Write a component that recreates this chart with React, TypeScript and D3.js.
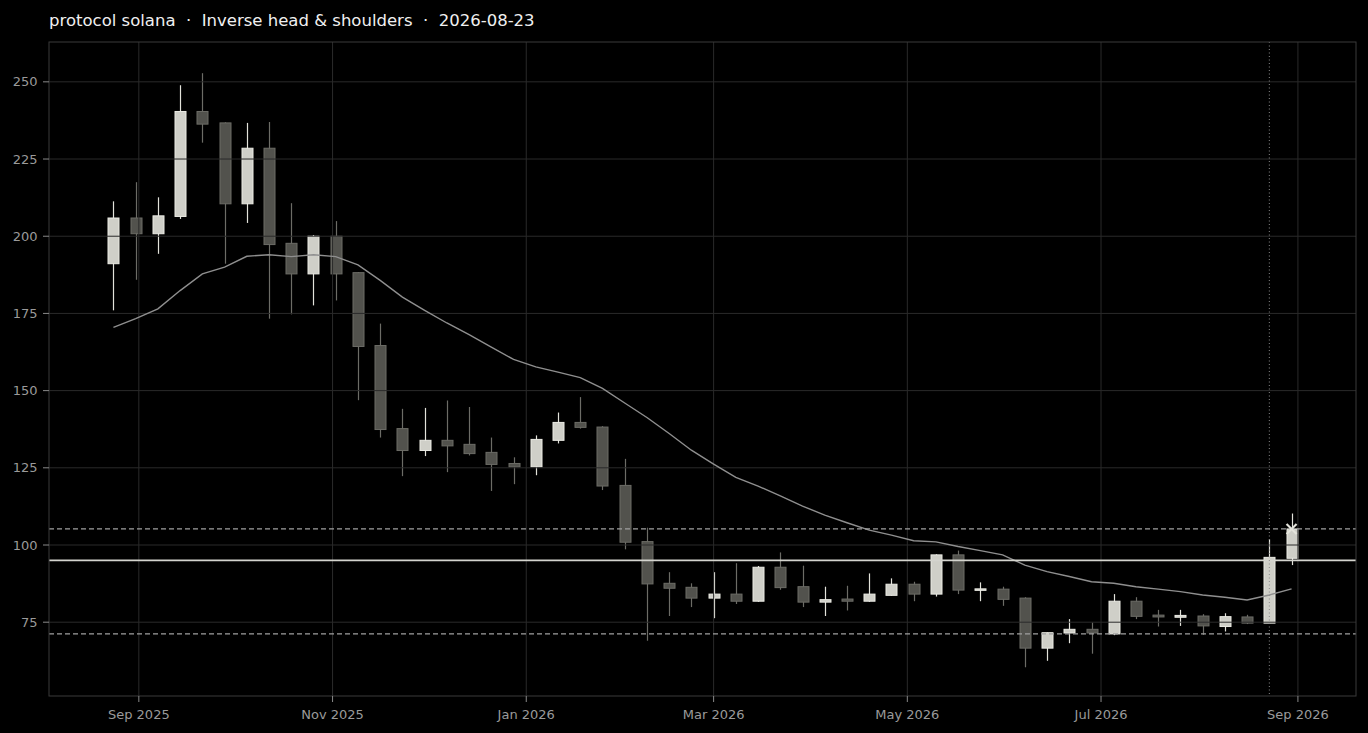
import React from "react";
import * as d3 from "d3";

// weekly candles (week start dates)
const weeks = [
  "2025-08-24", "2025-08-31", "2025-09-07", "2025-09-14", "2025-09-21", "2025-09-28",
  "2025-10-05", "2025-10-12", "2025-10-19", "2025-10-26", "2025-11-02", "2025-11-09",
  "2025-11-16", "2025-11-23", "2025-11-30", "2025-12-07", "2025-12-14", "2025-12-21",
  "2025-12-28", "2026-01-04", "2026-01-11", "2026-01-18", "2026-01-25", "2026-02-01",
  "2026-02-08", "2026-02-15", "2026-02-22", "2026-03-01", "2026-03-08", "2026-03-15",
  "2026-03-22", "2026-03-29", "2026-04-05", "2026-04-12", "2026-04-19", "2026-04-26",
  "2026-05-03", "2026-05-10", "2026-05-17", "2026-05-24", "2026-05-31", "2026-06-07",
  "2026-06-14", "2026-06-21", "2026-06-28", "2026-07-05", "2026-07-12", "2026-07-19",
  "2026-07-26", "2026-08-02", "2026-08-09", "2026-08-16", "2026-08-23", "2026-08-30",
];

const opens = [
  191.1, 205.9, 200.8, 206.4, 240.4, 236.7, 210.5, 228.5, 197.7, 187.8, 200.0, 188.2,
  164.6, 137.7, 130.6, 133.9, 132.6, 130.0, 126.4, 125.3, 133.9, 139.7, 138.2, 119.3,
  101.1, 87.6, 86.3, 82.8, 84.1, 81.8, 92.8, 86.5, 81.5, 82.5, 81.8, 83.7,
  87.3, 84.1, 96.8, 85.4, 85.7, 82.8, 66.6, 71.5, 72.7, 71.2, 81.8, 77.3,
  76.6, 77.0, 73.6, 76.7, 74.7, 95.7,
];
const highs = [
  211.3, 217.5, 212.6, 248.9, 252.8, 236.9, 236.7, 237.0, 210.7, 200.4, 204.9, 188.4,
  171.7, 144.1, 144.4, 146.8, 144.7, 134.8, 128.4, 135.5, 142.9, 147.9, 138.5, 127.9,
  105.6, 91.2, 87.6, 91.2, 94.1, 93.2, 97.6, 93.3, 86.5, 86.8, 90.8, 89.2,
  88.1, 97.0, 98.2, 87.9, 86.5, 83.1, 71.7, 76.0, 74.9, 84.1, 83.1, 79.0,
  79.0, 77.6, 77.9, 77.4, 101.8, 110.2,
];
const lows = [
  176.0, 185.9, 194.3, 205.6, 230.3, 191.1, 204.3, 173.3, 174.7, 177.6, 179.2, 146.9,
  134.8, 122.3, 128.8, 123.6, 129.0, 117.5, 119.7, 122.6, 132.9, 137.7, 117.8, 98.6,
  69.0, 77.0, 79.9, 76.3, 80.9, 81.6, 85.5, 79.9, 77.0, 78.8, 81.6, 83.6,
  81.8, 83.3, 84.1, 81.8, 80.3, 60.4, 62.5, 68.2, 64.8, 70.8, 76.0, 73.6,
  73.8, 70.9, 72.0, 74.4, 74.5, 93.5,
];
const closes = [
  205.9, 200.8, 206.6, 240.4, 236.3, 210.5, 228.5, 197.3, 187.8, 200.0, 187.8, 164.3,
  137.4, 130.6, 133.9, 132.1, 129.6, 126.1, 125.3, 134.2, 139.7, 138.1, 119.1, 100.9,
  87.4, 86.0, 82.8, 84.1, 81.8, 92.8, 86.2, 81.5, 82.3, 81.8, 84.1, 87.3,
  84.1, 96.8, 85.4, 85.8, 82.4, 66.6, 71.6, 72.7, 71.5, 81.8, 76.9, 76.7,
  77.2, 73.8, 76.8, 74.7, 96.0, 105.2,
];
// moving average line
const movingAvg = [
  170.5, 173.3, 176.5, 182.4, 187.8, 190.0, 193.5, 194.0, 193.4, 194.0, 193.4, 190.7,
  185.7, 180.3, 176.0, 171.9, 168.1, 164.1, 160.1, 157.7, 156.0, 154.2, 150.7, 146.0,
  141.3, 136.1, 130.7, 126.2, 121.9, 119.1, 115.9, 112.6, 109.7, 107.2, 104.8, 103.2,
  101.4, 101.0, 99.5, 98.2, 96.8, 93.5, 91.4, 89.8, 88.1, 87.6, 86.5, 85.7,
  84.9, 83.8, 83.1, 82.2, 83.8, 85.8,
];

const neckline = 95;
const bands = [105.2, 71.2];
const signalDate = "2026-08-23";
const yTicks = [75, 100, 125, 150, 175, 200, 225, 250];
const title = "protocol solana  ·  Inverse head & shoulders  ·  2026-08-23";

const W = 1368;
const H = 733;
const margin = { top: 42, right: 12, bottom: 37, left: 49 };

const App: React.FC = () => {
  const parse = d3.timeParse("%Y-%m-%d");
  const dates = weeks.map((w) => parse(w) as Date);
  const candles = dates.map((d, i) => ({
    date: d,
    o: opens[i],
    h: highs[i],
    l: lows[i],
    c: closes[i],
    ma: movingAvg[i],
  }));

  const x = d3
    .scaleTime()
    .domain([
      d3.timeHour.offset(dates[0], -Math.round(20.3 * 24)),
      d3.timeHour.offset(dates[dates.length - 1], Math.round(20.3 * 24)),
    ])
    .range([margin.left, W - margin.right]);
  const y = d3
    .scaleLinear()
    .domain([51.1, 262.9])
    .range([H - margin.bottom, margin.top]);

  const xTicks = x.ticks(d3.timeMonth.every(2) as d3.TimeInterval);
  const fmt = d3.timeFormat("%b %Y");
  const bodyW = 11;

  const maLine = d3
    .line<(typeof candles)[number]>()
    .x((d) => x(d.date))
    .y((d) => y(d.ma));

  const last = candles[candles.length - 1];
  const sigX = x(parse(signalDate) as Date);
  const x0 = margin.left;
  const x1 = W - margin.right;
  const y0 = margin.top;
  const y1 = H - margin.bottom;
  const font = "DejaVu Sans, sans-serif";
  const gridColor = "#2a2a2a";

  return (
    <div style={{ position: "absolute", left: 0, top: 0 }}>
      <svg width={W} height={H} style={{ display: "block", background: "#000" }}>
        <rect x={0} y={0} width={W} height={H} fill="#000" />
        <text
          x={49}
          y={26}
          fill="#f0f0f0"
          fontFamily={font}
          fontSize={16.5}
          style={{ whiteSpace: "pre" }}
        >
          {title}
        </text>

        {/* candles */}
        {candles.map((d, i) => {
          const up = d.c >= d.o;
          const cx = Math.round(x(d.date)) + 0.5;
          const top = y(Math.max(d.o, d.c));
          const bot = y(Math.min(d.o, d.c));
          return (
            <g key={i}>
              <line
                x1={cx}
                x2={cx}
                y1={y(d.h)}
                y2={y(d.l)}
                stroke={up ? "#e2e2da" : "#6c6c66"}
                strokeWidth={1.2}
              />
              <rect
                x={cx - bodyW / 2}
                y={top}
                width={bodyW}
                height={Math.max(1.5, bot - top)}
                fill={up ? "#cfcfc8" : "#52524d"}
                stroke={up ? "#ebebe4" : "#6c6c66"}
                strokeWidth={1}
              />
            </g>
          );
        })}

        {/* grid (drawn above candles) */}
        {yTicks.map((t) => (
          <line key={"gy" + t} x1={x0} x2={x1} y1={y(t)} y2={y(t)} stroke={gridColor} strokeWidth={1} />
        ))}
        {xTicks.map((t, i) => (
          <line key={"gx" + i} x1={x(t)} x2={x(t)} y1={y0} y2={y1} stroke={gridColor} strokeWidth={1} />
        ))}

        {/* moving average */}
        <path d={maLine(candles) || ""} fill="none" stroke="#8f8f8f" strokeWidth={1.4} />

        {/* pattern levels */}
        {bands.map((b, i) => (
          <line
            key={"b" + i}
            x1={x0}
            x2={x1}
            y1={y(b)}
            y2={y(b)}
            stroke="#a0a0a0"
            strokeWidth={1.3}
            strokeDasharray="5,3"
          />
        ))}
        <line x1={x0} x2={x1} y1={y(neckline)} y2={y(neckline)} stroke="#d4d4ce" strokeWidth={1.8} />
        <line x1={sigX} x2={sigX} y1={y0} y2={y1} stroke="#8a8a8a" strokeWidth={1} strokeDasharray="1,2.5" />

        {/* last close marker */}
        <g transform={`translate(${x(last.date)},${y(last.c)})`} stroke="#e4e4dc" strokeWidth={2.2}>
          <line x1={-5} y1={-5} x2={5} y2={5} />
          <line x1={-5} y1={5} x2={5} y2={-5} />
        </g>

        {/* frame */}
        <rect x={x0} y={y0} width={x1 - x0} height={y1 - y0} fill="none" stroke="#3a3a3a" strokeWidth={1} />

        {/* y axis */}
        {yTicks.map((t) => (
          <g key={"ty" + t}>
            <line x1={x0 - 6} x2={x0} y1={y(t)} y2={y(t)} stroke="#8a8a8a" />
            <text
              x={x0 - 11.5}
              y={y(t)}
              dy="0.35em"
              textAnchor="end"
              fill="#9a9a9a"
              fontFamily={font}
              fontSize={13}
            >
              {t}
            </text>
          </g>
        ))}

        {/* x axis */}
        {xTicks.map((t, i) => (
          <g key={"tx" + i}>
            <line x1={x(t)} x2={x(t)} y1={y1} y2={y1 + 6} stroke="#8a8a8a" />
            <text
              x={x(t)}
              y={y1 + 23}
              textAnchor="middle"
              fill="#9a9a9a"
              fontFamily={font}
              fontSize={13}
            >
              {fmt(t)}
            </text>
          </g>
        ))}
      </svg>
    </div>
  );
};

export default App;
